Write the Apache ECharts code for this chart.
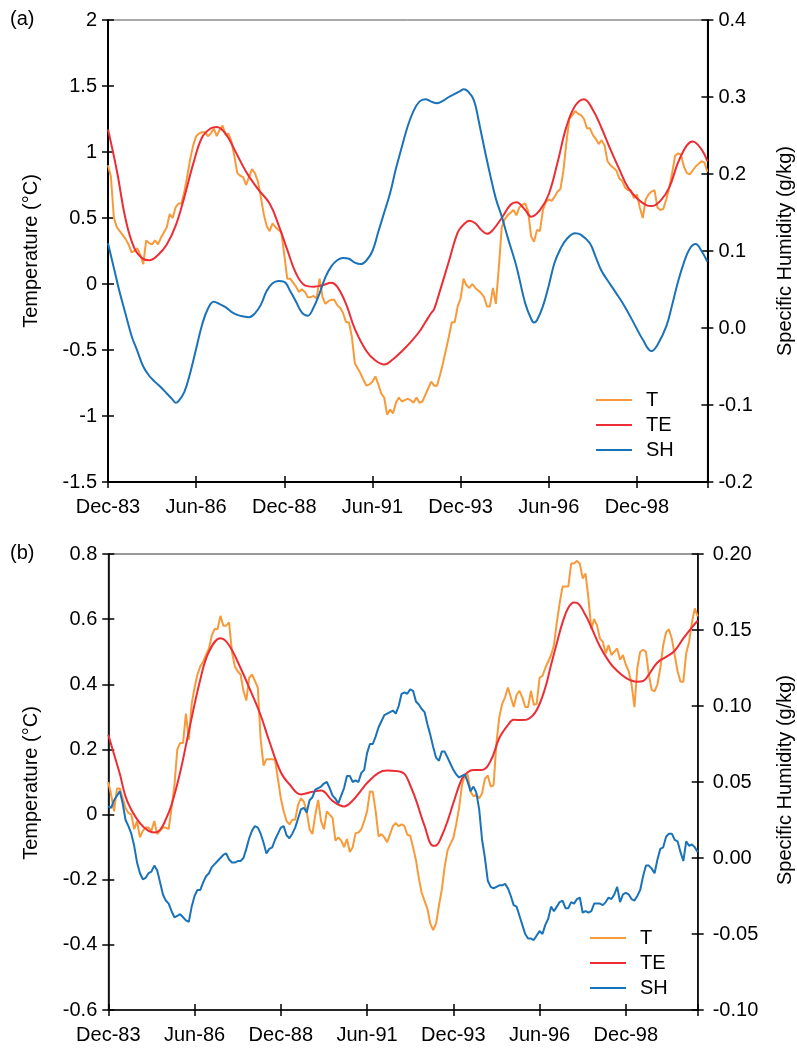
<!DOCTYPE html>
<html>
<head>
<meta charset="utf-8">
<script src="https://cdn.jsdelivr.net/npm/echarts@6/dist/echarts.min.js"></script>
<style>
html,body{margin:0;padding:0;background:#fff;}
#chart{width:797px;height:1050px;}
</style>
</head>
<body>
<div id="chart"></div>
<script>
// X tick labels (every 30 months starting Dec-83)
const tickLabels = ['Dec-83','Jun-86','Dec-88','Jun-91','Dec-93','Jun-96','Dec-98'];
const seriesNames = ['T','TE','SH'];

// Panel (a): monthly T (°C), index = months since Dec-83
const aT = [0.90,0.81,0.50,0.43,0.40,0.37,0.34,0.30,0.24,0.25,
0.27,0.22,0.15,0.33,0.31,0.30,0.33,0.30,0.35,0.39,
0.43,0.53,0.50,0.58,0.61,0.61,0.70,0.82,0.95,1.05,
1.12,1.14,1.15,1.15,1.12,1.14,1.18,1.12,1.17,1.20,
1.13,1.14,1.08,0.97,0.84,0.82,0.81,0.75,0.81,0.87,
0.84,0.78,0.66,0.53,0.44,0.40,0.46,0.43,0.41,0.39,
0.22,0.04,0.04,0.01,-0.02,-0.06,-0.04,-0.06,-0.10,-0.10,
-0.09,-0.11,0.04,-0.10,-0.15,-0.13,-0.12,-0.12,-0.16,-0.18,
-0.22,-0.29,-0.29,-0.40,-0.60,-0.64,-0.68,-0.73,-0.77,-0.76,
-0.74,-0.70,-0.76,-0.83,-0.86,-0.99,-0.95,-0.98,-0.90,-0.86,
-0.89,-0.88,-0.87,-0.88,-0.90,-0.86,-0.90,-0.89,-0.84,-0.79,
-0.74,-0.77,-0.77,-0.69,-0.60,-0.50,-0.40,-0.29,-0.29,-0.17,
-0.11,0.04,-0.01,-0.03,0.00,-0.03,-0.05,-0.07,-0.10,-0.17,
-0.17,-0.03,-0.15,0.12,0.43,0.49,0.52,0.54,0.56,0.52,
0.58,0.60,0.61,0.55,0.36,0.32,0.41,0.40,0.56,0.62,
0.64,0.63,0.66,0.70,0.72,0.86,1.07,1.25,1.28,1.31,
1.29,1.28,1.25,1.18,1.18,1.13,1.10,1.06,1.09,1.05,
0.93,0.90,0.88,0.86,0.80,0.78,0.73,0.71,0.71,0.65,
0.68,0.58,0.50,0.64,0.68,0.70,0.71,0.58,0.56,0.57,
0.64,0.73,0.84,0.97,0.99,0.98,0.89,0.84,0.83,0.86,
0.89,0.91,0.93,0.92,0.85];

// Panel (a): TE (°C), [month, value]
const aTE = [[0,1.17],[3,0.86],[6,0.49],[9,0.27],[12,0.19],[14,0.18],[17,0.22],[20,0.30],[23,0.44],[26,0.66],[29,0.91],[32,1.11],[35,1.18],[37,1.19],[40,1.14],[43,1.02],[47,0.85],[51,0.72],[55,0.61],[58,0.45],[61,0.26],[64,0.08],[67,-0.01],[70,-0.02],[73,-0.01],[76,0.01],[78,-0.02],[81,-0.15],[84,-0.34],[88,-0.51],[91,-0.58],[94,-0.61],[97,-0.57],[100,-0.51],[103,-0.44],[106,-0.36],[108,-0.29],[110,-0.22],[111,-0.19],[113,-0.05],[116,0.17],[119,0.39],[121,0.45],[123,0.48],[125,0.46],[127,0.41],[129,0.38],[131,0.41],[134,0.50],[137,0.60],[139,0.62],[142,0.56],[144,0.51],[147,0.56],[150,0.68],[153,0.92],[156,1.19],[159,1.35],[162,1.40],[165,1.32],[168,1.18],[171,1.02],[174,0.87],[177,0.73],[180,0.65],[183,0.60],[185,0.59],[188,0.63],[191,0.73],[194,0.92],[197,1.05],[199,1.08],[202,1.02],[204,0.93]];

// Panel (a): SH (g/kg), [month, value]
const aSH = [[0,0.110],[2,0.078],[4,0.046],[6,0.018],[8,-0.010],[10,-0.030],[12,-0.050],[14,-0.062],[16,-0.070],[18,-0.077],[20,-0.085],[22,-0.093],[23,-0.097],[24,-0.095],[26,-0.083],[28,-0.058],[30,-0.027],[32,0.004],[34,0.025],[36,0.034],[38,0.031],[40,0.027],[42,0.021],[44,0.017],[46,0.015],[48,0.014],[50,0.019],[52,0.030],[54,0.048],[56,0.058],[58,0.061],[60,0.060],[62,0.048],[64,0.034],[66,0.020],[68,0.016],[70,0.027],[72,0.045],[74,0.066],[76,0.080],[78,0.088],[80,0.091],[82,0.090],[84,0.085],[86,0.083],[88,0.088],[90,0.100],[92,0.125],[94,0.150],[96,0.175],[98,0.207],[100,0.235],[102,0.262],[104,0.282],[106,0.294],[108,0.297],[110,0.294],[112,0.292],[114,0.295],[116,0.300],[118,0.304],[120,0.308],[121,0.310],[122,0.309],[123,0.305],[124,0.300],[125,0.290],[126,0.272],[128,0.235],[130,0.200],[132,0.168],[134,0.145],[136,0.118],[139,0.080],[142,0.032],[144,0.012],[145,0.007],[146,0.010],[148,0.028],[150,0.055],[152,0.085],[154,0.103],[156,0.115],[159,0.123],[161,0.121],[164,0.110],[166,0.092],[168,0.074],[170,0.062],[173,0.045],[176,0.027],[179,0.006],[182,-0.015],[185,-0.030],[187,-0.022],[190,0.002],[192,0.030],[194,0.060],[196,0.085],[198,0.103],[200,0.109],[202,0.100],[204,0.086]];

// Panel (b): monthly T (°C)
const bT = [0.10,0.06,0.01,0.08,0.08,0.05,0.02,0.005,0.0,-0.045,
-0.02,-0.07,-0.05,-0.04,-0.04,-0.05,-0.02,-0.06,-0.05,-0.04,
-0.04,-0.045,0.02,0.09,0.20,0.22,0.22,0.31,0.23,0.34,
0.39,0.43,0.455,0.47,0.49,0.51,0.55,0.57,0.57,0.61,
0.58,0.58,0.59,0.50,0.455,0.44,0.43,0.38,0.35,0.42,
0.43,0.41,0.39,0.23,0.15,0.17,0.17,0.17,0.168,0.11,
0.05,0.01,-0.02,-0.03,-0.016,-0.016,0.03,0.05,0.04,0.01,
-0.045,-0.06,0.0,0.045,-0.02,-0.045,0.01,0.0,-0.01,-0.08,
-0.07,-0.08,-0.10,-0.075,-0.115,-0.10,-0.057,-0.055,-0.045,-0.02,
0.01,0.071,0.07,0.01,-0.067,-0.06,-0.07,-0.085,-0.06,-0.035,
-0.026,-0.036,-0.03,-0.035,-0.062,-0.065,-0.10,-0.14,-0.195,-0.24,
-0.265,-0.29,-0.335,-0.355,-0.335,-0.28,-0.23,-0.16,-0.11,-0.09,
-0.072,-0.03,0.02,0.09,0.122,0.122,0.07,0.056,0.06,0.05,
0.065,0.11,0.12,0.086,0.09,0.22,0.30,0.34,0.36,0.39,
0.36,0.33,0.367,0.38,0.36,0.33,0.33,0.38,0.337,0.34,
0.42,0.426,0.45,0.47,0.49,0.52,0.59,0.65,0.70,0.70,
0.70,0.771,0.771,0.779,0.77,0.725,0.74,0.664,0.57,0.60,
0.58,0.54,0.53,0.495,0.52,0.49,0.50,0.51,0.475,0.49,
0.46,0.44,0.40,0.33,0.45,0.50,0.506,0.50,0.43,0.383,
0.378,0.40,0.45,0.52,0.56,0.569,0.54,0.49,0.44,0.408,
0.408,0.495,0.53,0.59,0.633,0.608];

// Panel (b): TE (°C), [month, value]
const bTE = [[0,0.245],[2,0.185],[4,0.125],[6,0.055],[8,0.015],[11,-0.026],[14,-0.050],[16,-0.055],[18,-0.047],[20,-0.015],[22,0.03],[25,0.13],[28,0.255],[32,0.415],[35,0.50],[39,0.541],[42,0.52],[46,0.45],[49,0.39],[53,0.305],[56,0.225],[60,0.13],[63,0.093],[67,0.062],[71,0.070],[74,0.074],[78,0.042],[82,0.025],[85,0.043],[88,0.075],[90,0.097],[94,0.128],[97,0.135],[100,0.134],[103,0.125],[105,0.090],[107,0.045],[110,-0.035],[113,-0.096],[114,-0.095],[116,-0.065],[118,-0.02],[120,0.035],[123,0.11],[125,0.13],[127,0.137],[130,0.137],[133,0.165],[136,0.235],[139,0.275],[141,0.291],[144,0.290],[146,0.293],[149,0.321],[152,0.39],[154,0.46],[156,0.526],[158,0.59],[160,0.635],[162,0.651],[163,0.65],[166,0.612],[168,0.575],[171,0.516],[174,0.472],[176,0.450],[180,0.420],[184,0.408],[186,0.41],[188,0.43],[191,0.467],[194,0.484],[197,0.503],[200,0.541],[203,0.575],[205,0.595]];

// Panel (b): monthly SH (g/kg)
const bSH = [0.034,0.033,0.038,0.041,0.044,0.036,0.025,0.021,0.016,0.008,
-0.003,-0.010,-0.014,-0.013,-0.010,-0.009,-0.005,-0.008,-0.016,-0.024,
-0.028,-0.030,-0.035,-0.039,-0.038,-0.037,-0.039,-0.041,-0.042,-0.032,
-0.025,-0.021,-0.021,-0.016,-0.012,-0.010,-0.006,-0.004,-0.002,0.000,
0.002,0.003,-0.001,-0.003,-0.003,-0.002,-0.002,0.000,0.006,0.013,
0.018,0.021,0.020,0.016,0.010,0.003,0.006,0.007,0.012,0.016,
0.020,0.021,0.015,0.013,0.016,0.020,0.026,0.032,0.033,0.030,
0.038,0.040,0.045,0.046,0.047,0.049,0.050,0.046,0.041,0.039,
0.036,0.041,0.046,0.054,0.054,0.050,0.051,0.050,0.056,0.058,
0.069,0.075,0.075,0.080,0.086,0.090,0.094,0.095,0.096,0.097,
0.095,0.100,0.108,0.109,0.108,0.111,0.110,0.103,0.101,0.098,
0.096,0.088,0.081,0.073,0.066,0.064,0.070,0.070,0.066,0.062,
0.058,0.055,0.053,0.054,0.055,0.050,0.044,0.047,0.043,0.032,
0.012,0.000,-0.015,-0.019,-0.020,-0.019,-0.018,-0.018,-0.017,-0.020,
-0.025,-0.031,-0.032,-0.038,-0.044,-0.050,-0.053,-0.053,-0.054,-0.051,
-0.048,-0.050,-0.044,-0.040,-0.032,-0.035,-0.032,-0.029,-0.028,-0.033,
-0.033,-0.029,-0.030,-0.027,-0.026,-0.036,-0.035,-0.036,-0.035,-0.030,
-0.030,-0.030,-0.031,-0.029,-0.026,-0.027,-0.024,-0.019,-0.029,-0.024,
-0.023,-0.024,-0.027,-0.028,-0.025,-0.021,-0.012,-0.005,-0.005,-0.007,
-0.010,-0.001,0.006,0.007,0.014,0.016,0.016,0.012,0.011,0.004,
-0.002,0.011,0.008,0.009,0.007,0.004];

const FONT = "'Liberation Sans', Arial, Helvetica, sans-serif";
const COL_T = '#F89A3A', COL_TE = '#EC2D35', COL_SH = '#1A72B8';

const chart = echarts.init(document.getElementById('chart'), null, {renderer:'canvas'});

function xAx(grid, max, inside, lw) {
  return {
    gridIndex: grid, type: 'value', position: 'bottom', min: 0, max: max, interval: 30,
    axisLine: {show: !inside, onZero: false, lineStyle: {color: '#000', width: lw}},
    axisTick: {show: true, inside: inside, length: 6, lineStyle: {color: '#000', width: 1.5}},
    axisLabel: {show: !inside, margin: 15, fontSize: 20, color: '#000', fontFamily: FONT,
      formatter: v => (v % 30 === 0 && tickLabels[v / 30]) ? tickLabels[v / 30] : ''},
    splitLine: {show: false}
  };
}
function yAx(grid, pos, min, max, interval, fmt, inside, lw, margin) {
  return {
    gridIndex: grid, type: 'value', position: pos, min: min, max: max, interval: interval,
    axisLine: {show: !inside, onZero: false, lineStyle: {color: '#000', width: lw}},
    axisTick: {show: true, inside: inside, length: 6, lineStyle: {color: '#000', width: 1.5}},
    axisLabel: {show: !inside, margin: margin, fontSize: 20, color: '#000', fontFamily: FONT, formatter: fmt},
    splitLine: {show: false}
  };
}
const f1 = v => String(+(+v).toFixed(1));
const f1fixed = v => (+v).toFixed(1);
const f2fixed = v => (+v).toFixed(2);

function lineSeries(name, xi, yi, data, color, smooth) {
  return {name: name, type: 'line', xAxisIndex: xi, yAxisIndex: yi, data: data,
    symbol: 'none', showSymbol: false, smooth: smooth ? 0.4 : false,
    lineStyle: {color: color, width: 2}, itemStyle: {color: color}};
}

function legendAt(left, top) {
  return {
    orient: 'vertical', left: left, top: top, padding: 0,
    itemWidth: 36, itemHeight: 20, itemGap: 5, data: seriesNames,
    itemStyle: {opacity: 0},
    textStyle: {fontSize: 20, color: '#000', fontFamily: FONT, padding: [0, 0, 0, 9]},
    selectedMode: false
  };
}

const option = {
  animation: false,
  backgroundColor: '#fff',
  grid: [
    {left: 108, top: 20, width: 599.4, height: 462, show: true, borderColor: '#555', borderWidth: 1},
    {left: 108.3, top: 554, width: 589.4, height: 456, show: true, borderColor: '#333', borderWidth: 1}
  ],
  xAxis: [
    xAx(0, 204, false, 2),
    xAx(1, 205, false, 1.6),
    xAx(0, 204, true, 2),
    xAx(1, 205, true, 1.6)
  ],
  yAxis: [
    yAx(0, 'left', -1.5, 2, 0.5, f1, false, 2, 11),
    yAx(0, 'right', -0.2, 0.4, 0.1, f1fixed, false, 2, 11),
    yAx(1, 'left', -0.6, 0.8, 0.2, f1, false, 1.6, 11),
    yAx(1, 'right', -0.1, 0.2, 0.05, f2fixed, false, 1.6, 15),
    yAx(0, 'left', -1.5, 2, 0.5, f1, true, 2, 11),
    yAx(0, 'right', -0.2, 0.4, 0.1, f1fixed, true, 2, 11),
    yAx(1, 'left', -0.6, 0.8, 0.2, f1, true, 1.6, 11),
    yAx(1, 'right', -0.1, 0.2, 0.05, f2fixed, true, 1.6, 15)
  ],
  legend: [legendAt(595, 390), legendAt(589, 928)],
  series: [
    lineSeries('T', 0, 0, aT.map((v, i) => [i, v]), COL_T, false),
    lineSeries('TE', 0, 0, aTE, COL_TE, true),
    lineSeries('SH', 0, 1, aSH, COL_SH, true),
    lineSeries('T', 1, 2, bT.map((v, i) => [i, v]), COL_T, false),
    lineSeries('TE', 1, 2, bTE, COL_TE, true),
    lineSeries('SH', 1, 3, bSH.map((v, i) => [i, v]), COL_SH, false)
  ],
  graphic: [
    {type: 'text', left: 10, top: 9, style: {text: '(a)', font: '20px ' + FONT, fill: '#000'}},
    {type: 'text', left: 10, top: 543, style: {text: '(b)', font: '20px ' + FONT, fill: '#000'}},
    {type: 'text', x: 31, y: 251, rotation: Math.PI / 2,
      style: {text: 'Temperature (°C)', font: '20px ' + FONT, fill: '#000', align: 'center', verticalAlign: 'middle'}},
    {type: 'text', x: 785, y: 251, rotation: Math.PI / 2,
      style: {text: 'Specific Humidity (g/kg)', font: '20px ' + FONT, fill: '#000', align: 'center', verticalAlign: 'middle'}},
    {type: 'text', x: 31, y: 783, rotation: Math.PI / 2,
      style: {text: 'Temperature (°C)', font: '20px ' + FONT, fill: '#000', align: 'center', verticalAlign: 'middle'}},
    {type: 'text', x: 785, y: 780, rotation: Math.PI / 2,
      style: {text: 'Specific Humidity (g/kg)', font: '20px ' + FONT, fill: '#000', align: 'center', verticalAlign: 'middle'}}
  ]
};
chart.setOption(option);
</script>
</body>
</html>
